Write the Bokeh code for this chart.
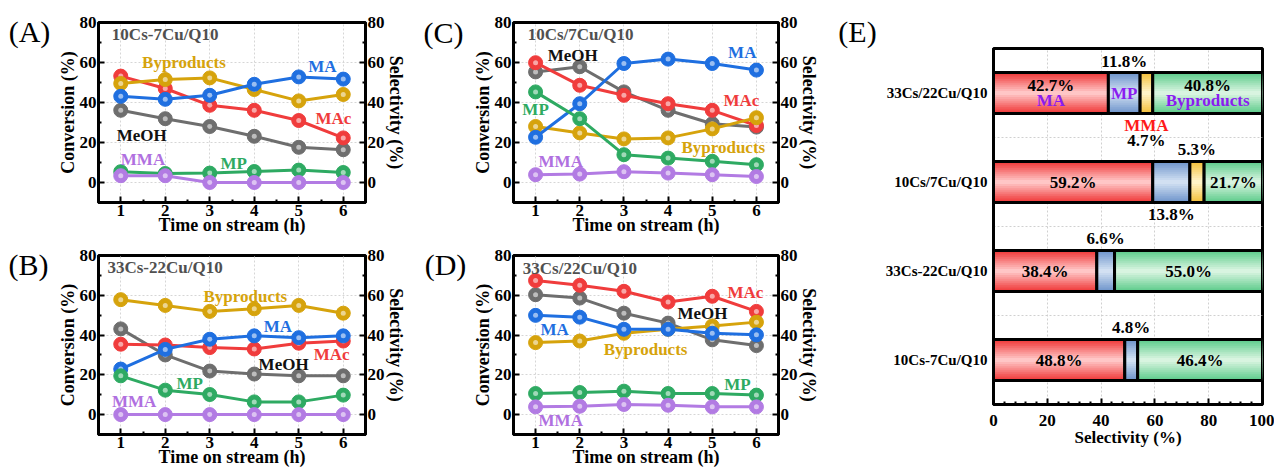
import numpy as np
from bokeh.plotting import figure
from bokeh.models import LinearAxis, FixedTicker, Label, ColumnDataSource, Range1d
from bokeh.layouts import row, column
from bokeh.core.properties import value
from bokeh.embed import file_html
from bokeh.resources import INLINE

FONT = "Liberation Serif"

# ---------------- data ----------------
time_h = [1, 2, 3, 4, 5, 6]

# (A) 10Cs-7Cu/Q10
a_MAc = [53.2, 47.0, 38.6, 36.1, 31.0, 22.3]
a_MeOH = [36.1, 31.9, 28.0, 23.1, 17.6, 16.4]
a_MA = [43.1, 41.6, 43.6, 49.1, 52.8, 51.7]
a_MP = [5.4, 4.5, 4.7, 5.5, 6.2, 5.0]
a_MMA = [3.4, 3.4, 0.0, 0.0, 0.0, 0.0]
a_Byp = [49.5, 51.5, 52.3, 46.5, 40.8, 44.0]

# (B) 33Cs-22Cu/Q10
b_MAc = [35.4, 35.0, 33.7, 33.0, 35.9, 37.0]
b_MeOH = [43.1, 30.0, 21.9, 20.4, 19.5, 19.5]
b_MA = [22.9, 32.8, 37.9, 39.6, 38.7, 39.6]
b_MP = [19.5, 12.3, 10.1, 6.4, 6.4, 9.8]
b_MMA = [0.0, 0.0, 0.0, 0.0, 0.0, 0.0]
b_Byp = [57.8, 54.9, 51.9, 53.2, 54.9, 51.0]

# (C) 10Cs/7Cu/Q10
c_MAc = [59.9, 48.6, 43.6, 39.4, 36.1, 28.5]
c_MeOH = [55.3, 57.9, 45.3, 36.1, 29.4, 27.7]
c_MA = [22.6, 39.4, 59.5, 61.7, 59.5, 56.2]
c_MP = [45.3, 31.9, 13.9, 12.2, 10.6, 8.9]
c_MMA = [3.9, 4.2, 5.4, 4.7, 3.9, 3.0]
c_Byp = [28.0, 24.8, 21.8, 22.3, 26.8, 32.4]

# (D) 33Cs/22Cu/Q10
d_MAc = [67.4, 65.0, 62.0, 56.6, 59.5, 51.9]
d_MeOH = [60.3, 58.6, 51.0, 46.0, 37.6, 34.7]
d_MA = [49.9, 49.0, 42.9, 42.9, 40.9, 40.1]
d_MP = [10.6, 11.1, 11.8, 10.6, 10.6, 9.8]
d_MMA = [3.9, 4.2, 5.1, 4.7, 3.9, 3.9]
d_Byp = [36.2, 37.0, 40.9, 42.9, 44.6, 46.5]

# (E) selectivity bars (bottom to top)
e_categories = ["10Cs-7Cu/Q10", "33Cs-22Cu/Q10", "10Cs/7Cu/Q10", "33Cs/22Cu/Q10"]
e_MA = [48.8, 38.4, 59.2, 42.7]
e_MP = [4.8, 6.6, 13.8, 11.8]
e_MMA = [0.0, 0.0, 5.3, 4.7]
e_Byp = [46.4, 55.0, 21.7, 40.8]

panel_letters = ["(A)", "(B)", "(C)", "(D)", "(E)"]

# ---------------- styles ----------------
line_colors = {"MAc": "#f03c3c", "MeOH": "#6e6e6e", "MA": "#1f6fe0",
               "MP": "#2eaa62", "MMA": "#b27be3", "Byproducts": "#d6a30c"}
label_colors = dict(line_colors, MeOH="#111111", MMA="#b070e0")
draw_order = ["MeOH", "MAc", "Byproducts", "MA", "MP", "MMA"]
LAB_SIZE = "17px"


def style_axis(ax, tick_size="17px", title_size="18px", title_standoff=-4):
    ax.major_label_text_font = FONT
    ax.major_label_text_font_style = "bold"
    ax.major_label_text_font_size = tick_size
    ax.major_label_text_color = "black"
    ax.axis_label_text_font = FONT
    ax.axis_label_text_font_style = "bold"
    ax.axis_label_text_font_size = title_size
    ax.axis_label_text_color = "black"
    ax.axis_line_width = 3
    ax.axis_line_color = "black"
    ax.major_tick_in = 6
    ax.major_tick_out = 0
    ax.minor_tick_in = 3
    ax.minor_tick_out = 0
    ax.major_tick_line_width = 2
    ax.minor_tick_line_width = 2
    ax.major_label_standoff = 2
    ax.axis_label_standoff = title_standoff


def make_panel(series, title, lab_pos, title_pos, width, height, mbl, mbr, mbt, mbb):
    p = figure(width=width, height=height, x_range=Range1d(0.5, 6.5),
               y_range=Range1d(-10, 80), output_backend="svg",
               toolbar_location=None, min_border_left=mbl, min_border_right=mbr,
               min_border_top=mbt, min_border_bottom=mbb)
    p.outline_line_color = "black"
    p.outline_line_width = 3
    xt = FixedTicker(ticks=time_h, minor_ticks=[1.5, 2.5, 3.5, 4.5, 5.5])
    yt = FixedTicker(ticks=[0, 20, 40, 60, 80], minor_ticks=[-10, 10, 30, 50, 70])
    p.xaxis.ticker = xt
    p.yaxis.ticker = yt
    p.xaxis.axis_label = "Time on stream (h)"
    p.yaxis.axis_label = "Conversion (%)"
    right = LinearAxis(axis_label="Selectivity (%)", ticker=yt)
    p.add_layout(right, "right")
    style_axis(p.xaxis[0])
    style_axis(p.yaxis[0], title_standoff=-1)
    style_axis(right, title_standoff=-2)
    p.xgrid.ticker = xt
    p.ygrid.ticker = yt
    for g in (p.xgrid[0], p.ygrid[0]):
        g.grid_line_color = "#d6d6d6"
        g.grid_line_dash = "2 2"
        g.grid_line_width = 1

    for key in draw_order:
        ys = series[key]
        c = line_colors[key]
        p.line(time_h, ys, line_color=c, line_width=3)
        p.scatter(time_h, ys, size=14, fill_color=c, line_color=c, line_width=1)
        p.scatter(time_h, ys, size=5, fill_color="white", fill_alpha=0.55, line_color=None)

    for key, (lx, ly) in lab_pos.items():
        p.add_layout(Label(x=lx, y=ly, text=key, text_font=FONT, text_font_style="bold",
                           text_font_size=LAB_SIZE, text_color=label_colors[key],
                           text_align="center", text_baseline="middle"))
    p.add_layout(Label(x=title_pos[0], y=title_pos[1], text=title, text_font=FONT,
                       text_font_style="bold", text_font_size=LAB_SIZE, text_color="#505050",
                       text_align="left", text_baseline="middle"))
    return p


TOP_H, BOT_H = 238, 231
pA = make_panel({"MAc": a_MAc, "MeOH": a_MeOH, "MA": a_MA, "MP": a_MP, "MMA": a_MMA, "Byproducts": a_Byp},
                "10Cs-7Cu/Q10",
                {"Byproducts": (2.42, 59.9), "MA": (5.53, 57.9), "MAc": (5.78, 31.9),
                 "MeOH": (1.47, 23.5), "MMA": (1.5, 11.7), "MP": (3.54, 9.6)},
                (0.8, 73.9), 361, TOP_H, 46, 48, 22, 36)
pB = make_panel({"MAc": b_MAc, "MeOH": b_MeOH, "MA": b_MA, "MP": b_MP, "MMA": b_MMA, "Byproducts": b_Byp},
                "33Cs-22Cu/Q10",
                {"Byproducts": (3.8, 59.5), "MA": (4.53, 44.3), "MeOH": (4.66, 25.4),
                 "MAc": (5.74, 30.0), "MP": (2.55, 15.7), "MMA": (1.3, 6.4)},
                (0.7, 74.0), 361, BOT_H, 46, 48, 17, 34)
pC = make_panel({"MAc": c_MAc, "MeOH": c_MeOH, "MA": c_MA, "MP": c_MP, "MMA": c_MMA, "Byproducts": c_Byp},
                "10Cs/7Cu/Q10",
                {"MeOH": (1.84, 63.7), "MP": (1.0, 36.4), "MMA": (1.57, 10.4),
                 "MA": (5.68, 65.0), "MAc": (5.66, 41.0), "Byproducts": (5.25, 17.6)},
                (0.82, 74.0), 363, TOP_H, 46, 52, 22, 36)
pD = make_panel({"MAc": d_MAc, "MeOH": d_MeOH, "MA": d_MA, "MP": d_MP, "MMA": d_MMA, "Byproducts": d_Byp},
                "33Cs/22Cu/Q10",
                {"MA": (1.43, 43.0), "Byproducts": (3.49, 32.5), "MeOH": (4.78, 51.0),
                 "MAc": (5.75, 61.5), "MP": (5.57, 15.3), "MMA": (1.57, -3.2)},
                (0.71, 73.5), 363, BOT_H, 46, 52, 17, 34)


# ---------------- panel-letter strips ----------------
def letter_strip(width, letters, positions):
    H = TOP_H + BOT_H
    s = figure(width=width, height=H, x_range=Range1d(0, width), y_range=Range1d(H, 0),
               x_axis_type=None, y_axis_type=None, output_backend="svg",
               toolbar_location=None, min_border=0, min_border_left=0, min_border_right=0,
               min_border_top=0, min_border_bottom=0)
    s.outline_line_color = None
    s.xgrid.visible = False
    s.ygrid.visible = False
    s.text(x=[p[0] for p in positions], y=[p[1] for p in positions], text=letters,
           text_font=value(FONT), text_font_size="30px", text_color="black",
           text_align="center", text_baseline="middle")
    return s


L1 = letter_strip(52, panel_letters[0:2], [(29, 31), (28, 264)])
L2 = letter_strip(54, panel_letters[2:4], [(30, 32), (32, 264)])
L3 = letter_strip(48, panel_letters[4:5], [(27, 31)])


# ---------------- panel E ----------------
def lerp_hex(c1, c2, t):
    a = [int(c1[i:i + 2], 16) for i in (1, 3, 5)]
    b = [int(c2[i:i + 2], 16) for i in (1, 3, 5)]
    return "#%02x%02x%02x" % tuple(int(round(a[k] + (b[k] - a[k]) * t)) for k in range(3))


pE = figure(width=396, height=TOP_H + BOT_H, x_range=Range1d(0, 100), y_range=Range1d(-0.5, 3.5),
            output_backend="svg", toolbar_location=None, min_border_left=115,
            min_border_right=12, min_border_top=48, min_border_bottom=65)
pE.outline_line_color = "black"
pE.outline_line_width = 3
ext = FixedTicker(ticks=[0, 20, 40, 60, 80, 100],
                  minor_ticks=[v for v in range(4, 100, 4) if v % 20 != 0])
pE.xaxis.ticker = ext
pE.xaxis.axis_label = "Selectivity (%)"
style_axis(pE.xaxis[0], "17px", "17px")
pE.xaxis.major_label_standoff = 10
pE.xaxis.axis_label_standoff = -1
pE.yaxis.ticker = FixedTicker(ticks=list(range(len(e_categories))))
pE.yaxis.major_label_overrides = {i: c for i, c in enumerate(e_categories)}
style_axis(pE.yaxis[0], "15px", "15px")
pE.yaxis.major_tick_in = 0
pE.yaxis.minor_tick_in = 0
pE.yaxis.major_label_standoff = 6
pE.xgrid.ticker = FixedTicker(ticks=[20, 40, 60, 80])
pE.ygrid.ticker = FixedTicker(ticks=[0.5, 1.5, 2.5])
for g in (pE.xgrid[0], pE.ygrid[0]):
    g.grid_line_color = "#d0d0d0"
    g.grid_line_dash = "2 2"
    g.grid_line_width = 1

seg_names = ["MA", "MP", "MMA", "Byproducts"]
seg_vals = [e_MA, e_MP, e_MMA, e_Byp]
seg_dark = {"MA": "#f03a3a", "MP": "#7096cc", "MMA": "#f4c03c", "Byproducts": "#5fcc8c"}
seg_light = {"MA": "#ffc6c6", "MP": "#d2e0f2", "MMA": "#fff4c8", "Byproducts": "#d8f4e0"}
BAR_H = 0.46
NL = 10
ypos = list(range(len(e_categories)))
lefts = np.zeros(len(e_categories))
seg_geom = {}
for name, vals in zip(seg_names, seg_vals):
    v = np.array(vals, dtype=float)
    seg_geom[name] = (lefts.copy(), lefts + v)
    keep = v > 0
    src = ColumnDataSource(dict(y=np.array(ypos)[keep], left=lefts[keep], right=(lefts + v)[keep]))
    for k in range(NL):
        t = k / (NL - 1)
        pE.hbar(y="y", left="left", right="right", height=BAR_H * (1 - k / NL), source=src,
                fill_color=lerp_hex(seg_dark[name], seg_light[name], t), line_color=None)
    pE.hbar(y="y", left="left", right="right", height=BAR_H, source=src,
            fill_alpha=0, line_color="black", line_width=3)
    lefts = lefts + v

PURPLE = "#8a1cf0"
# (category index, segment, dy, text or None for percent, colour)
e_annotations = [
    (3, "MA", 0.08, None, "black"), (3, "MA", -0.08, "MA", PURPLE),
    (3, "MP", 0.0, "MP", PURPLE),
    (3, "Byproducts", 0.08, None, "black"), (3, "Byproducts", -0.08, "Byproducts", PURPLE),
    (3, "MP", 0.35, None, "black"),
    (3, "MMA", -0.36, "MMA", "#ff1a1a"), (3, "MMA", -0.53, None, "black"),
    (2, "MMA", 0.37, None, "black"), (2, "MP", -0.36, None, "black"),
    (2, "MA", 0.0, None, "black"), (2, "Byproducts", 0.0, None, "black"),
    (1, "MP", 0.36, None, "black"),
    (1, "MA", 0.0, None, "black"), (1, "Byproducts", 0.0, None, "black"),
    (0, "MP", 0.37, None, "black"),
    (0, "MA", 0.0, None, "black"), (0, "Byproducts", 0.0, None, "black"),
]
for ci, seg, dy, txt, col in e_annotations:
    l, r = seg_geom[seg]
    cx = (l[ci] + r[ci]) / 2
    val = r[ci] - l[ci]
    text = txt if txt is not None else f"{val:.1f}%"
    pE.add_layout(Label(x=cx, y=ypos[ci] + dy, text=text, text_font=FONT, text_font_style="bold",
                        text_font_size="17px", text_color=col, text_align="center",
                        text_baseline="middle"))

layout = row(L1, column(pA, pB), L2, column(pC, pD), L3, column(pE))
open("out.html", "w").write(file_html(layout, INLINE))
